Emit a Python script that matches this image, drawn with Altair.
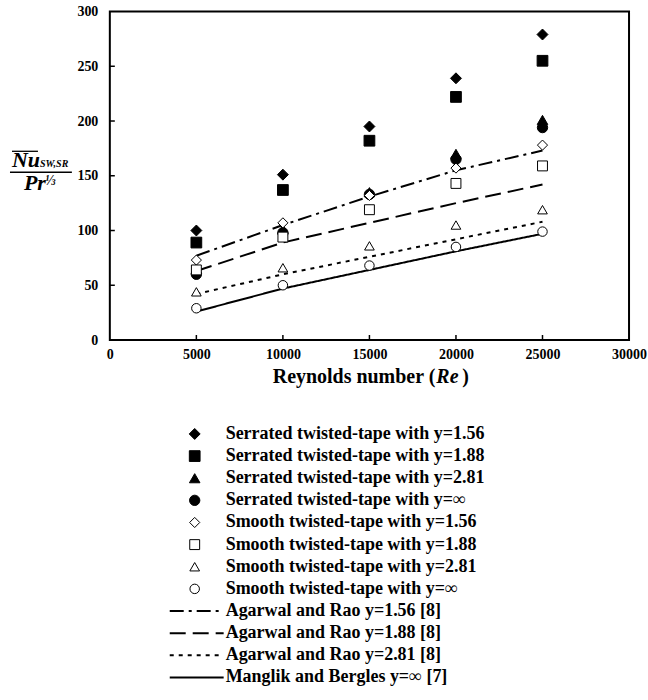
import altair as alt
import pandas as pd

# ---------------- data ----------------
re_vals = [5000, 10000, 15000, 20000, 25000]

serr_156 = [100, 151, 195, 239, 279]
serr_188 = [89, 137, 182, 222, 255]
serr_281 = [65, 101, 135, 170, 201]
serr_inf = [60, 98, 133, 165, 194]
smooth_156 = [73, 107, 132, 157, 178]
smooth_188 = [64, 94, 119, 143, 159]
smooth_281 = [44, 66, 86, 105, 119]
smooth_inf = [29, 50, 68, 85, 99]

agarwal_156 = [77, 105, 131, 155, 173]
agarwal_188 = [63, 89, 107, 125, 142]
agarwal_281 = [42, 60, 76, 92, 108]
manglik_inf = [26, 47, 64, 81, 97]

point_labels = [
    "Serrated twisted-tape with y=1.56",
    "Serrated twisted-tape with y=1.88",
    "Serrated twisted-tape with y=2.81",
    "Serrated twisted-tape with y=\u221e",
    "Smooth twisted-tape with y=1.56",
    "Smooth twisted-tape with y=1.88",
    "Smooth twisted-tape with y=2.81",
    "Smooth twisted-tape with y=\u221e",
]
line_labels = [
    "Agarwal and Rao y=1.56 [8]",
    "Agarwal and Rao y=1.88 [8]",
    "Agarwal and Rao y=2.81 [8]",
    "Manglik and Bergles y=\u221e  [7]",
]
x_tick_vals = [0, 5000, 10000, 15000, 20000, 25000, 30000]
y_tick_vals = [0, 50, 100, 150, 200, 250, 300]

# styles (kept separate from values)
shape_range = ["diamond", "square", "triangle-up", "circle"] * 2
fill_range = ["black"] * 4 + ["white"] * 4
size_range = [120, 90, 100, 90, 120, 90, 100, 90]
dash_range = [[14, 5, 3, 5], [16, 7], [4, 5], [1, 0]]

FONT = "Liberation Serif"

point_series = [serr_156, serr_188, serr_281, serr_inf,
                smooth_156, smooth_188, smooth_281, smooth_inf]
line_series = [agarwal_156, agarwal_188, agarwal_281, manglik_inf]

pts = pd.DataFrame([
    {"Re": r, "val": v, "series": lab}
    for lab, vals in zip(point_labels, point_series)
    for r, v in zip(re_vals, vals)
])
lns = pd.DataFrame([
    {"Re": r, "val": v, "series": lab}
    for lab, vals in zip(line_labels, line_series)
    for r, v in zip(re_vals, vals)
])

W, H = 520, 329

xscale = alt.Scale(domain=[0, 30000], nice=False)
yscale = alt.Scale(domain=[0, 300], nice=False)

xaxis = alt.Axis(values=x_tick_vals, format="d", labelFont=FONT, labelFontWeight="bold",
                 labelFontSize=14, labelColor="black", ticks=False, domain=False,
                 grid=False, labelPadding=8, title=None, labelFlush=False)
yaxis = alt.Axis(values=y_tick_vals, format="d", labelFont=FONT, labelFontWeight="bold",
                 labelFontSize=14, labelColor="black", ticks=False, domain=False,
                 grid=False, labelPadding=12, title=None, labelFlush=False)

shape_scale = alt.Scale(domain=point_labels, range=shape_range)
fill_scale = alt.Scale(domain=point_labels, range=fill_range)
size_scale = alt.Scale(domain=point_labels, range=size_range)
dash_scale = alt.Scale(domain=line_labels, range=dash_range)

lines = alt.Chart(lns).mark_line(color="black", strokeWidth=2).encode(
    x=alt.X("Re:Q", scale=xscale, axis=xaxis),
    y=alt.Y("val:Q", scale=yscale, axis=yaxis),
    strokeDash=alt.StrokeDash("series:N", scale=dash_scale, legend=None),
    detail="series:N",
)

points = alt.Chart(pts).mark_point(filled=True, stroke="black", strokeWidth=1, opacity=1).encode(
    x=alt.X("Re:Q", scale=xscale),
    y=alt.Y("val:Q", scale=yscale),
    shape=alt.Shape("series:N", scale=shape_scale, legend=None),
    fill=alt.Fill("series:N", scale=fill_scale, legend=None),
    size=alt.Size("series:N", scale=size_scale, legend=None),
)

xt = alt.Chart(pd.DataFrame({"v": x_tick_vals[1:-1]})).mark_rule(color="black", strokeWidth=1.5).encode(
    x=alt.X("v:Q", scale=xscale), y=alt.value(H), y2=alt.value(H - 5))
yt = alt.Chart(pd.DataFrame({"v": y_tick_vals[1:-1]})).mark_rule(color="black", strokeWidth=1.5).encode(
    y=alt.Y("v:Q", scale=yscale), x=alt.value(0), x2=alt.value(5))

dummy = pd.DataFrame({"t": ["Nu"]})

def txt(s, x, y, size, italic=True, align="left", baseline="alphabetic"):
    kw = dict(font=FONT, fontWeight="bold", fontSize=size, align=align,
              baseline=baseline, color="black")
    if italic:
        kw["fontStyle"] = "italic"
    return alt.Chart(pd.DataFrame({"t": [s]})).mark_text(**kw).encode(
        text="t:N", x=alt.value(x), y=alt.value(y))

def rule(x1, x2, y, w=1.3):
    return alt.Chart(dummy).mark_rule(color="black", strokeWidth=w).encode(
        x=alt.value(x1), x2=alt.value(x2), y=alt.value(y))

ytitle = [
    txt("Nu", -98, 156, 22),
    rule(-98, -72, 140),
    txt("SW,SR", -70, 156, 10),
    rule(-100, -38, 161),
    txt("Pr", -86, 179, 22),
    txt("\u2153", -65, 174, 14),
]

xtitle = [
    txt("Reynolds number (", 326, 372, 20, italic=False, align="right"),
    txt("Re", 327, 372, 20, italic=True),
    txt(")", 353, 372, 20, italic=False),
]

main = alt.layer(lines, points, xt, yt, *ytitle, *xtitle).properties(
    width=W, height=H,
    view=alt.ViewBackground(stroke="black", strokeWidth=2),
)

# ---------------- legend ----------------
leg_pts = pd.DataFrame({"series": point_labels, "row": list(range(8))})
leg_lns = pd.DataFrame({"series": line_labels, "row": list(range(8, 12))})
leg_all = pd.DataFrame({"series": point_labels + line_labels, "row": list(range(12))})

LH = 266
rscale = alt.Scale(domain=[-0.5, 11.5], reverse=True, nice=False)

leg_p = alt.Chart(leg_pts).mark_point(filled=True, stroke="black", strokeWidth=1, opacity=1).encode(
    x=alt.value(85),
    y=alt.Y("row:Q", scale=rscale, axis=None),
    shape=alt.Shape("series:N", scale=shape_scale, legend=None),
    fill=alt.Fill("series:N", scale=fill_scale, legend=None),
    size=alt.Size("series:N", scale=size_scale, legend=None),
)
leg_l = alt.Chart(leg_lns).mark_rule(color="black", strokeWidth=2).encode(
    x=alt.value(60), x2=alt.value(114),
    y=alt.Y("row:Q", scale=rscale, axis=None),
    strokeDash=alt.StrokeDash("series:N", scale=dash_scale, legend=None),
)
leg_t = alt.Chart(leg_all).mark_text(font=FONT, fontWeight="bold", fontSize=18, align="left",
                                     baseline="middle", color="black").encode(
    x=alt.value(116),
    y=alt.Y("row:Q", scale=rscale, axis=None),
    text="series:N",
)

legend = alt.layer(leg_l, leg_p, leg_t).properties(
    width=W, height=LH,
    view=alt.ViewBackground(stroke="transparent"),
)

chart = alt.vconcat(main, legend, spacing=34).properties(
    padding={"left": 8, "top": 3, "right": 0, "bottom": 0},
).configure_view(stroke="transparent")

chart.save("out.html", embed_options={"renderer": "svg", "actions": False})
